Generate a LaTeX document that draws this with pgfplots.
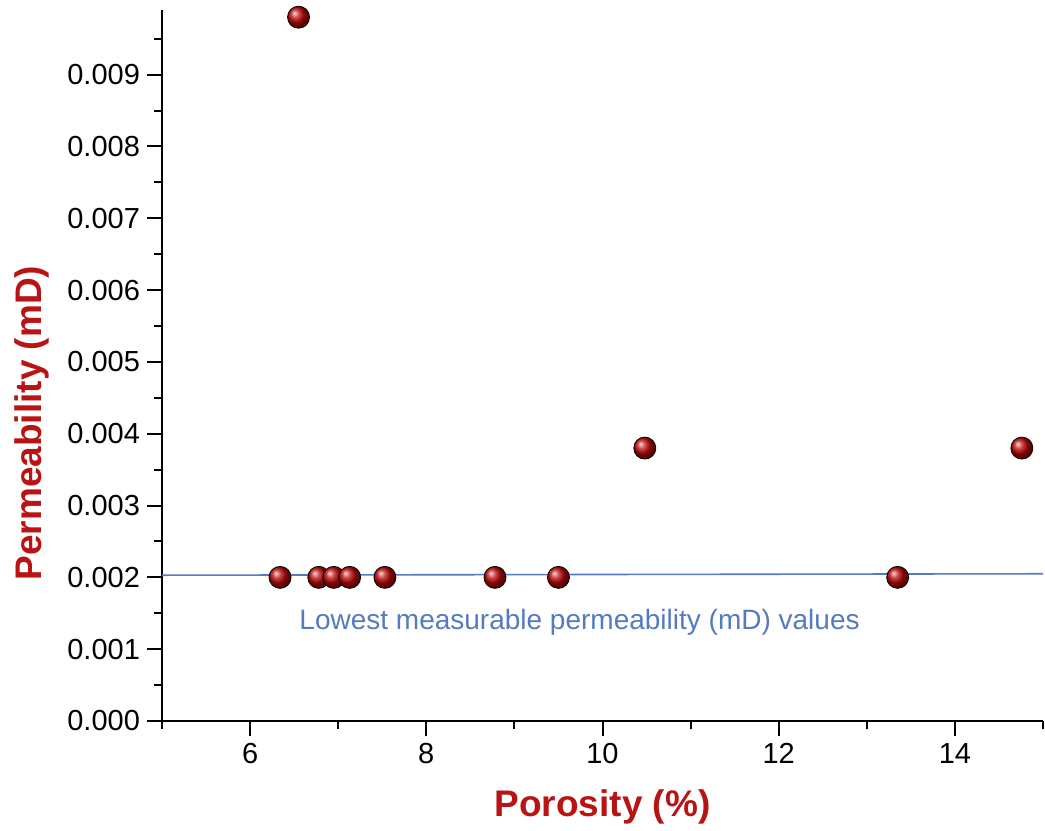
\documentclass[border=0pt]{standalone}
\usepackage{fontspec}
\setmainfont{Liberation Sans}
\usepackage{pgfplots}
\pgfplotsset{compat=1.18}
\usetikzlibrary{calc}

\definecolor{ptred}{RGB}{190,10,10}
\definecolor{labred}{RGB}{185,20,20}
\definecolor{lineblue}{RGB}{84,122,192}

\begin{document}
\begin{tikzpicture}
\begin{axis}[
  name=ax,
  scale only axis,
  width=440.5pt,
  height=355.5pt,
  xmin=5, xmax=15,
  ymin=0, ymax=0.0099,
  axis x line=bottom,
  axis y line=left,
  axis line style={-, line width=1pt},
  tick align=outside,
  major tick length=7.5pt,
  minor tick length=4pt,
  every tick/.style={black, line width=1pt},
  xtick={6,8,10,12,14},
  minor xtick={5,7,9,11,13,15},
  ytick={0,0.001,...,0.0091},
  minor ytick={0.0005,0.0015,...,0.0096},
  scaled y ticks=false,
  yticklabel style={/pgf/number format/.cd, fixed, fixed zerofill, precision=3},
  /pgf/number format/assume math mode=true,
  tick label style={font=\fontsize{14.5}{16}\selectfont},
  xlabel={Porosity (\%)},
  ylabel={Permeability (mD)},
  label style={font=\fontsize{18.5}{21}\selectfont\bfseries, text=labred},
  xlabel style={yshift=-6pt},
  ylabel style={at={(ticklabel cs:0.419)}, yshift=2pt},
  clip=false,
]
\addplot[lineblue, line width=0.8pt] coordinates {(5,0.00203) (15,0.00205)};
\addplot[only marks, mark=ball, ball color=ptred, mark size=5.5pt] coordinates {
  (6.34,0.0020) (6.78,0.0020) (6.95,0.0020) (7.13,0.0020) (7.53,0.0020)
  (8.78,0.0020) (9.50,0.0020) (13.35,0.0020)
  (6.55,0.0098) (10.48,0.0038) (14.76,0.0038)
};
\node[text=lineblue, font=\fontsize{14}{16}\selectfont] at (axis cs:9.74,0.00137) {Lowest measurable permeability (mD) values};
\end{axis}
\path[use as bounding box] ($(ax.south west)+(-81pt,-54.5pt)$) rectangle ($(ax.north east)+(1pt,5pt)$);
\end{tikzpicture}
\end{document}
